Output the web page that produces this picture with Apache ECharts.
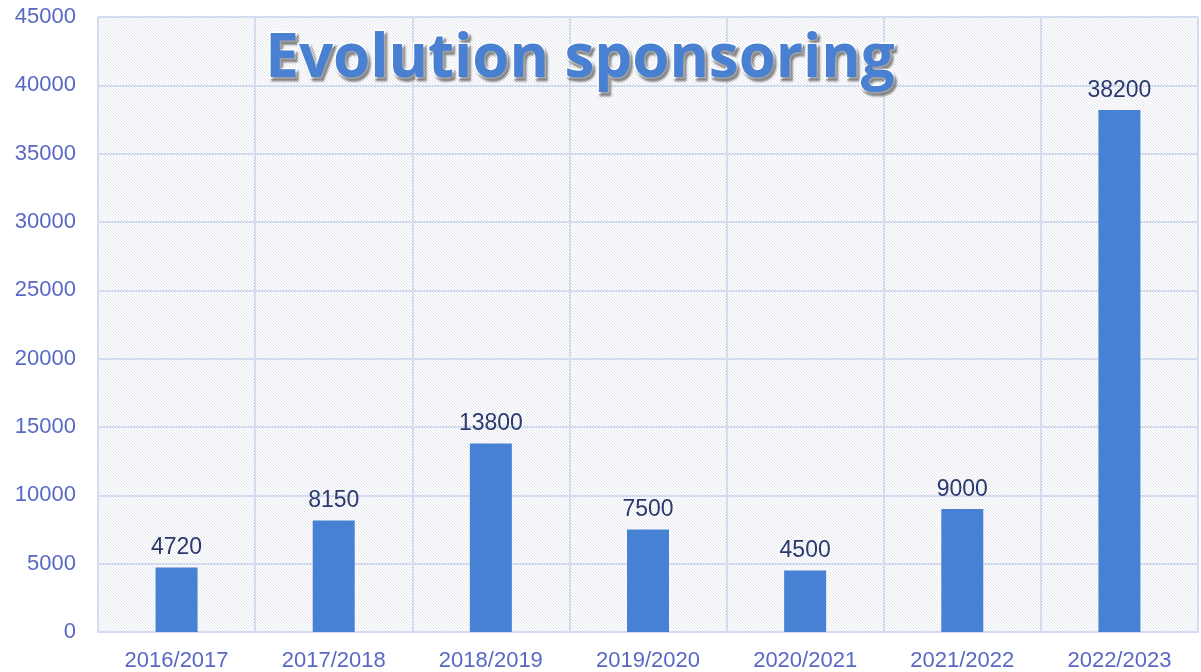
<!DOCTYPE html>
<html>
<head>
<meta charset="utf-8">
<script src="https://cdn.jsdelivr.net/npm/echarts@6/dist/echarts.min.js"></script>
<style>
  html, body { margin: 0; padding: 0; background: #fff; }
  #chart { width: 1201px; height: 672px; }
</style>
</head>
<body>
<div id="chart"></div>
<script>
const seasons = ['2016/2017', '2017/2018', '2018/2019', '2019/2020', '2020/2021', '2021/2022', '2022/2023'];
const sponsoring = [4720, 8150, 13800, 7500, 4500, 9000, 38200];
const yTicks = [0, 5000, 10000, 15000, 20000, 25000, 30000, 35000, 40000, 45000];

// hatch pattern for plot background
const hatch = document.createElement('canvas');
hatch.width = 6; hatch.height = 6;
const hc = hatch.getContext('2d');
hc.fillStyle = '#ffffff';
hc.fillRect(0, 0, 6, 6);
hc.strokeStyle = '#e0e3ea';
hc.lineWidth = 1;
for (let k = -6; k <= 12; k += 3) {
  hc.beginPath();
  hc.moveTo(k, 0);
  hc.lineTo(k + 6, 6);
  hc.stroke();
}

const chart = echarts.init(document.getElementById('chart'));
chart.setOption({
  animation: false,
  backgroundColor: '#ffffff',
  title: {
    text: 'Evolution sponsoring',
    left: 575,
    top: 25,
    textAlign: 'center',
    textStyle: {
      fontFamily: 'Open Sans',
      fontWeight: 'bold',
      fontSize: 60,
      color: '#4a80d2',
      textBorderColor: '#ffffff',
      textBorderWidth: 3,
      textShadowColor: 'rgba(80,80,80,0.55)',
      textShadowOffsetX: 2,
      textShadowOffsetY: 3,
      textShadowBlur: 2
    }
  },
  grid: {
    left: 98,
    right: 3,
    top: 17,
    bottom: 40,
    show: true,
    borderWidth: 0,
    backgroundColor: { image: hatch, repeat: 'repeat' }
  },
  xAxis: {
    type: 'category',
    data: seasons,
    axisTick: { show: false },
    axisLine: { lineStyle: { color: '#d3ddef', width: 2 } },
    splitLine: { show: true, interval: 0, lineStyle: { color: '#d3ddef', width: 2 } },
    axisLabel: {
      interval: 0,
      margin: 18,
      fontFamily: 'Liberation Sans',
      fontSize: 22,
      color: '#5868c4'
    }
  },
  yAxis: {
    type: 'value',
    min: yTicks[0],
    max: yTicks[yTicks.length - 1],
    interval: 5000,
    axisLine: { show: false },
    axisTick: { show: false },
    splitLine: { lineStyle: { color: '#d3ddef', width: 2 } },
    axisLabel: {
      margin: 22,
      fontFamily: 'Liberation Sans',
      fontSize: 22,
      color: '#5868c4',
      formatter: (v) => String(v)
    }
  },
  series: [{
    type: 'bar',
    data: sponsoring,
    barWidth: 42,
    itemStyle: { color: '#4781d3' },
    label: {
      show: true,
      position: 'top',
      distance: 8,
      fontFamily: 'Liberation Sans',
      fontSize: 23,
      color: '#2b3a6e'
    }
  }]
});
</script>
</body>
</html>
